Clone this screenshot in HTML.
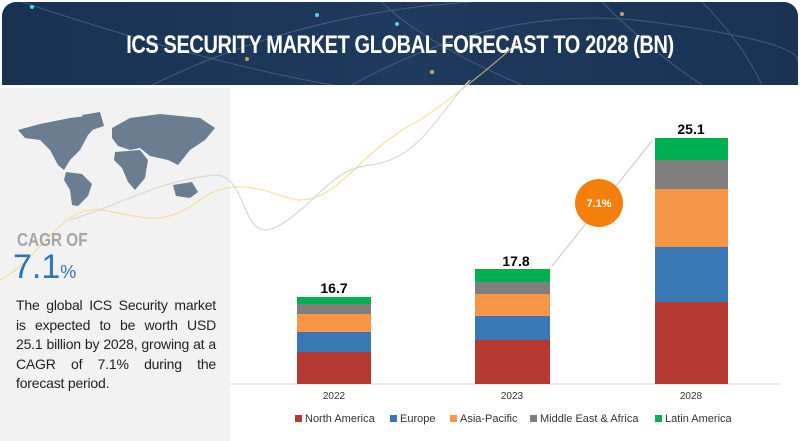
<!DOCTYPE html>
<html><head><style>
body{margin:0;width:800px;height:441px;overflow:hidden;background:#fff;font-family:"Liberation Sans",sans-serif;position:relative}
.hdr{position:absolute;left:2px;top:2px;width:796px;height:83px;border-radius:14px 14px 0 0;background:linear-gradient(90deg,#183252,#1e3a5c 50%,#1a3354);overflow:hidden}
.hdr h1{margin:0;position:absolute;left:0;right:0;top:29px;text-align:center;color:#fff;font:bold 25px "Liberation Sans Narrow","Liberation Sans",sans-serif;letter-spacing:-0.5px;transform:scaleX(0.8)}
.left{position:absolute;left:0;top:88px;width:230px;height:353px;background:#f2f2f2}
.cagr{position:absolute;left:17px;top:230px;font:bold 18px "Liberation Sans",sans-serif;color:#a6a6a6;transform:scaleX(0.85);transform-origin:left}
.pct{position:absolute;left:13px;top:248px;font:34px "Liberation Sans",sans-serif;color:#2e75b6}
.pct span{font-size:18px}
.txt{position:absolute;left:16px;top:296px;width:200px;font-size:14px;letter-spacing:-0.2px;line-height:19.5px;color:#222;text-align:justify}
.bar{position:absolute}
.v{position:absolute;font:bold 14px "Liberation Sans",sans-serif;color:#000;text-align:center;width:80px}
.yr{position:absolute;font-size:10px;color:#333;width:60px;text-align:center;top:391px}
.leg{position:absolute;top:413px;font-size:11px;color:#333}
.leg i{display:inline-block;width:7px;height:7px;margin-right:3px}
</style></head><body>
<div class="hdr">
<svg width="796" height="83" style="position:absolute;left:0;top:0">
<g fill="none" stroke="#5a7898" stroke-width="1" opacity="0.6">
<path d="M20 0 Q200 60 330 83"/><path d="M150 83 Q300 10 470 0"/><path d="M350 83 Q500 0 650 20 T796 60"/><path d="M600 0 Q650 50 700 83"/><path d="M380 0 Q420 40 520 83"/><path d="M700 0 Q740 40 760 83"/></g>
<g fill="#e8c060" opacity="0.8"><circle cx="620" cy="12" r="2"/><circle cx="245" cy="57" r="2"/><circle cx="430" cy="70" r="2"/></g>
<g fill="#5ad0f0"><circle cx="315" cy="13" r="2"/><circle cx="395" cy="22" r="2"/><circle cx="30" cy="5" r="2"/></g>
</svg>
<h1>ICS SECURITY MARKET GLOBAL FORECAST TO 2028 (BN)</h1>
</div>
<div class="left"></div>
<svg width="800" height="441" style="position:absolute;left:0;top:0">
<g fill="#6b7d91">
<path d="M18 130 L40 124 L70 118 L95 115 L100 122 L88 135 L80 150 L70 160 L64 170 L58 165 L50 150 L40 140 L25 138Z"/>
<path d="M82 115 L100 112 L104 126 L92 130Z"/>
<path d="M66 172 L82 174 L92 184 L88 196 L78 206 L72 205 L70 190 L64 180Z"/>
<path d="M112 128 L130 118 L160 114 L200 118 L215 128 L205 140 L190 150 L178 165 L168 160 L150 156 L140 148 L130 150 L118 146 L112 138Z"/>
<path d="M115 152 L140 150 L148 160 L145 178 L135 190 L128 182 L122 168 L114 160Z"/>
<path d="M173 185 L192 182 L198 192 L190 198 L176 196Z"/>
</g>
<path d="M0 280 C40 260 60 205 100 210 C140 215 160 230 200 200 C240 170 280 200 300 200 C340 200 360 150 420 120 C450 100 500 60 520 40" fill="none" stroke="#f2d67a" stroke-width="1.2" opacity="0.7"/>
<path d="M70 220 C120 205 160 180 215 175 C250 175 240 250 280 225 C320 200 330 170 370 165 C420 160 440 110 470 80" fill="none" stroke="#d8d8d8" stroke-width="1.2"/>
<line x1="230" y1="384" x2="780" y2="384" stroke="#d9d9d9"/>
<line x1="552" y1="266" x2="652" y2="141" stroke="#d0d0d0" stroke-width="1.2"/>
<circle cx="599" cy="203" r="24" fill="#f47f0c"/>
<text x="599" y="207" fill="#fff" font-size="11" font-weight="bold" text-anchor="middle" font-family="Liberation Sans">7.1%</text>
</svg>
<div class="cagr">CAGR OF</div>
<div class="pct">7.1<span>%</span></div>
<div class="txt">The global ICS Security market is expected to be worth USD 25.1 billion by 2028, growing at a CAGR of 7.1% during the forecast period.</div>

<div class="bar" style="left:297px;top:297px;width:74px;height:7px;background:#00b050"></div>
<div class="bar" style="left:297px;top:304px;width:74px;height:10px;background:#7f7f7f"></div>
<div class="bar" style="left:297px;top:314px;width:74px;height:18px;background:#f79646"></div>
<div class="bar" style="left:297px;top:332px;width:74px;height:20px;background:#3a78b5"></div>
<div class="bar" style="left:297px;top:352px;width:74px;height:32px;background:#b73a32"></div>
<div class="v" style="left:294px;top:280px">16.7</div>

<div class="bar" style="left:475px;top:269px;width:75px;height:13px;background:#00b050"></div>
<div class="bar" style="left:475px;top:282px;width:75px;height:12px;background:#7f7f7f"></div>
<div class="bar" style="left:475px;top:294px;width:75px;height:22px;background:#f79646"></div>
<div class="bar" style="left:475px;top:316px;width:75px;height:24px;background:#3a78b5"></div>
<div class="bar" style="left:475px;top:340px;width:75px;height:44px;background:#b73a32"></div>
<div class="v" style="left:476px;top:253px">17.8</div>

<div class="bar" style="left:655px;top:138px;width:73px;height:22px;background:#00b050"></div>
<div class="bar" style="left:655px;top:160px;width:73px;height:29px;background:#7f7f7f"></div>
<div class="bar" style="left:655px;top:189px;width:73px;height:58px;background:#f79646"></div>
<div class="bar" style="left:655px;top:247px;width:73px;height:55px;background:#3a78b5"></div>
<div class="bar" style="left:655px;top:302px;width:73px;height:82px;background:#b73a32"></div>
<div class="v" style="left:651px;top:121px">25.1</div>

<div class="yr" style="left:304px">2022</div>
<div class="yr" style="left:482px">2023</div>
<div class="yr" style="left:661px">2028</div>

<div class="leg" style="left:295px"><i style="background:#b73a32"></i>North America</div>
<div class="leg" style="left:390px"><i style="background:#3a78b5"></i>Europe</div>
<div class="leg" style="left:450px"><i style="background:#f79646"></i>Asia-Pacific</div>
<div class="leg" style="left:530px"><i style="background:#7f7f7f"></i>Middle East &amp; Africa</div>
<div class="leg" style="left:655px"><i style="background:#00b050"></i>Latin America</div>
</body></html>
